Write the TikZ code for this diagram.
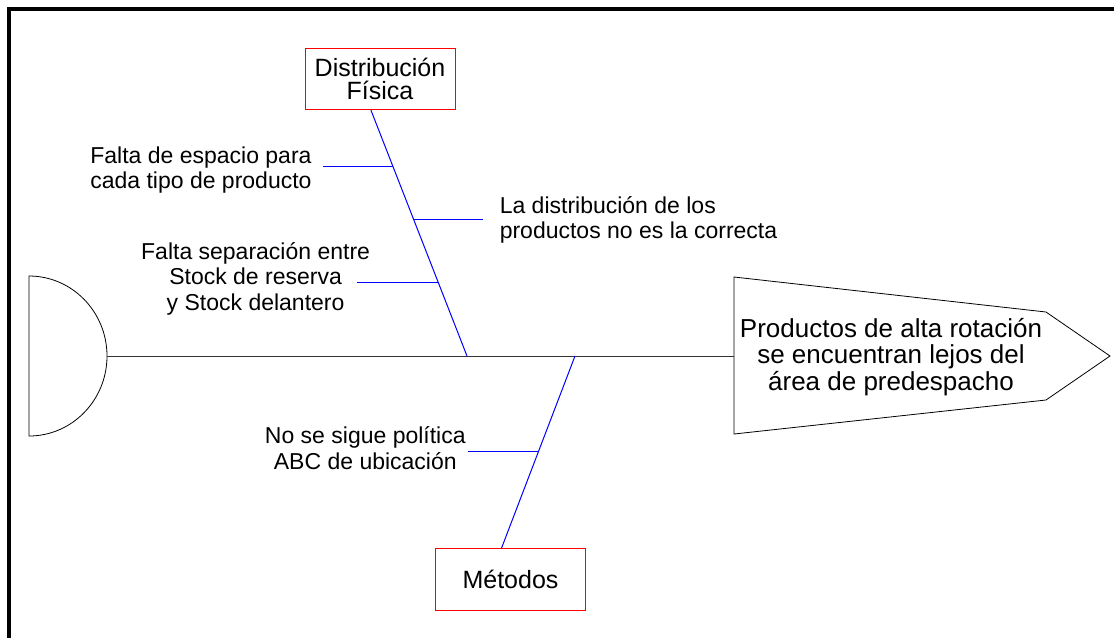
\documentclass[tikz,border=0pt]{standalone}
\usepackage{fontspec}
\setmainfont{Liberation Sans}
\usetikzlibrary{calc}
\usetikzlibrary{positioning}
\definecolor{bonecolor}{RGB}{0,0,255}
\definecolor{boxcolor}{RGB}{255,0,0}

\begin{document}
\begin{tikzpicture}[x=0.75pt, y=-0.75pt]
            \tikzset{frame/.style={black, line width=3pt}}
            \tikzset{spine/.style={black!80, line width=0.75pt}}
            \tikzset{bone/.style={bonecolor, line width=0.75pt}}
            \tikzset{outline/.style={black, line width=0.6pt}}
            \tikzset{category/.style={draw=boxcolor, line width=0.75pt, minimum width=112.5pt, minimum height=46pt, align=center, inner sep=0pt, font=\fontsize{18.75}{17.25}\selectfont}}
            \tikzset{cause/.style={inner sep=0pt, align=center, font=\fontsize{17.25}{19.1}\selectfont}}
            \useasboundingbox (0,0) rectangle (1114,637);
            \draw[frame] (9,645) -- (9,9) -- (1120,9);
            % tail and head
            \draw[outline] (29,276) arc[start angle=-90, end angle=90, x radius=78, y radius=80] -- cycle;
            \draw[outline] (734,277) -- (1046,312) -- (1110,356) -- (1046,400) -- (734,434) -- cycle;
            \coordinate (tail) at (107,356);
            \coordinate (head) at (734,356);
            \node[cause, font=\fontsize{19.5}{19.9}\selectfont] (effect) at (891,357) {Productos de alta rotación\\se encuentran lejos del\\área de predespacho};
            \draw[spine] (tail) -- (head);
            % categories
            \node[category] (dist) at (380,79) {Distribución\\Física};
            \node[category] (met) at (510.5,579.5) {Métodos};
            \coordinate (j1) at (467,356);
            \coordinate (j2) at (575,356);
            \coordinate (dtop) at ($(dist.south west)!0.44!(dist.south east)$);
            \coordinate (mtop) at ($(met.north west)!0.44!(met.north east)$);
            \draw[bone] (dtop) -- (j1);
            \draw[bone] (mtop) -- (j2);
            % causes
            \coordinate (c1) at ($(dtop)!0.2276!(j1)$);
            \coordinate (c2) at ($(dtop)!0.443!(j1)$);
            \coordinate (c3) at ($(dtop)!0.699!(j1)$);
            \coordinate (c4) at ($(j2)!0.497!(mtop)$);
            \coordinate (r1) at ($(c1)+(-70,0)$);
            \coordinate (r2) at ($(c2)+(70,0)$);
            \coordinate (r3) at ($(c3)+(-81,0)$);
            \coordinate (r4) at ($(c4)+(-70.5,0)$);
            \draw[bone] (c1) -- (r1);
            \draw[bone] (c2) -- (r2);
            \draw[bone] (c3) -- (r3);
            \draw[bone] (c4) -- (r4);
            \node[cause, left=8.25pt of r1, yshift=-3pt] (espacio) {Falta de espacio para\\cada tipo de producto};
            \node[cause, align=left, right=12pt of r2, yshift=-0.75pt] (ubicados) {La distribución de los\\productos no es la correcta};
            \node[cause] (separacion) at ([shift={(-101.5,-3.5)}]r3) {Falta separación entre\\Stock de reserva\\y Stock delantero};
            \node[cause, left=1.5pt of r4, yshift=2.6pt] (politica) {No se sigue política\\ABC de ubicación};
\end{tikzpicture}
\end{document}
